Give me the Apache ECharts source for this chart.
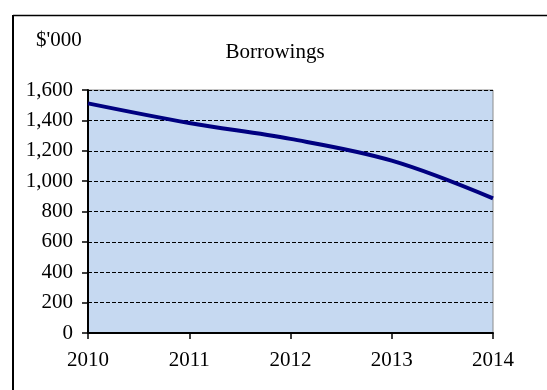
<!DOCTYPE html>
<html>
<head>
<meta charset="utf-8">
<script src="https://cdn.jsdelivr.net/npm/echarts@6/dist/echarts.min.js"></script>
<style>html,body{margin:0;padding:0;background:#fff;}#c{width:547px;height:390px;}</style>
</head>
<body>
<div id="c"></div>
<script>
const years = ['2010', '2011', '2012', '2013', '2014'];
const borrowings = [1512, 1383, 1278, 1135, 887];
const yMin = 0, yMax = 1600, yStep = 200;
const titleText = 'Borrowings';
const unitText = "$'000";

const font = '"Liberation Serif", "Times New Roman", serif';
const chart = echarts.init(document.getElementById('c'), null, {renderer: 'canvas'});
chart.setOption({
  animation: false,
  backgroundColor: '#ffffff',
  graphic: [
    {type: 'line', shape: {x1: 13, y1: 15.5, x2: 547, y2: 15.5}, style: {stroke: '#000', lineWidth: 1.5}},
    {type: 'line', shape: {x1: 13, y1: 15, x2: 13, y2: 390}, style: {stroke: '#000', lineWidth: 2}},
    {type: 'text', left: 36, top: 30, style: {text: unitText, font: '21px ' + font, fill: '#000'}}
  ],
  title: {
    text: titleText, left: 270, top: 37, textAlign: 'center',
    textStyle: {fontFamily: font, fontSize: 21, fontWeight: 'normal', color: '#000'}
  },
  grid: {
    left: 88, top: 90, right: 54, bottom: 57,
    show: true, backgroundColor: '#C6D9F1', borderColor: '#8c8c8c', borderWidth: 1
  },
  xAxis: {
    type: 'category', data: years, boundaryGap: false,
    axisLine: {lineStyle: {color: '#000', width: 2}},
    axisTick: {show: true, inside: false, length: 6, lineStyle: {color: '#000', width: 1.5}},
    axisLabel: {fontFamily: font, fontSize: 21, color: '#000', margin: 17},
    splitLine: {show: false}
  },
  yAxis: {
    type: 'value', min: yMin, max: yMax, interval: yStep,
    axisLine: {show: true, lineStyle: {color: '#000', width: 2}},
    axisTick: {show: true, inside: false, length: 6, lineStyle: {color: '#000', width: 1.5}},
    axisLabel: {fontFamily: font, fontSize: 21, color: '#000', margin: 15,
      formatter: v => v.toLocaleString('en-US')},
    splitLine: {show: true, lineStyle: {color: '#000', type: [4, 2], width: 1}}
  },
  series: [{
    type: 'line', data: borrowings, smooth: 0.35, symbol: 'none',
    lineStyle: {color: '#000080', width: 4}
  }]
});
</script>
</body>
</html>
